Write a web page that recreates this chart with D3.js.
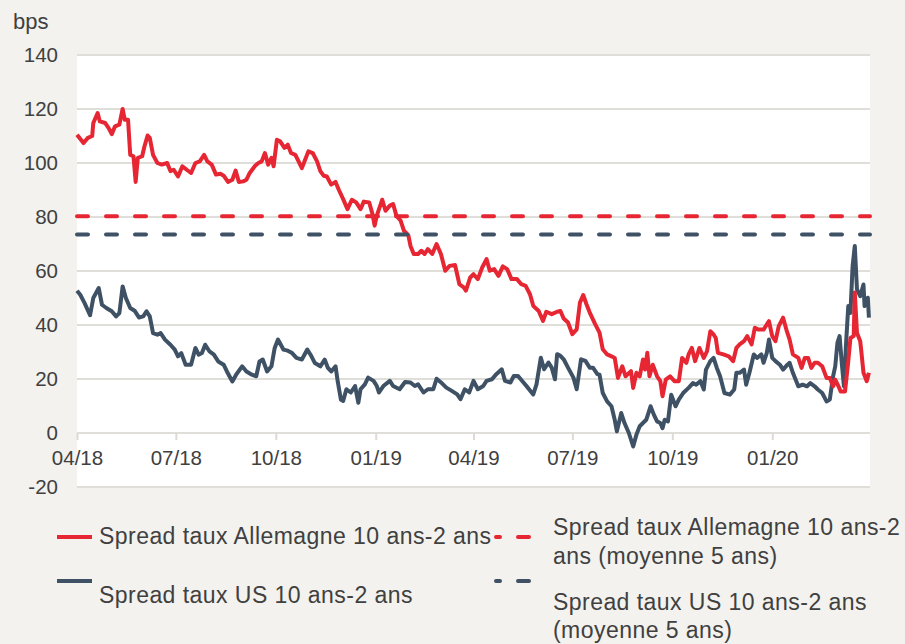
<!DOCTYPE html>
<html lang="fr">

<head>
    <meta charset="UTF-8">
    <title>Spread taux 10 ans-2 ans</title>
    <script src="https://d3js.org/d3.v7.min.js"></script>
    <style>
        body {
            margin: 0;
            background: #f3f2ee;
        }

        #chart text {
            font-family: "Liberation Sans", Arial, sans-serif;
            fill: #404040;
        }
    </style>
</head>

<body>

    <div id="chart"></div>

    <script>
        // Spread taux Allemagne 10 ans-2 ans (bps)
        var deDates = [
            "2018-04-01", "2018-04-07", "2018-04-11", "2018-04-15", "2018-04-16", "2018-04-20", "2018-04-22", "2018-04-27", "2018-04-30",
            "2018-05-03", "2018-05-06", "2018-05-10", "2018-05-13", "2018-05-15", "2018-05-18", "2018-05-20", "2018-05-23", "2018-05-25", "2018-05-27", "2018-05-31",
            "2018-06-02", "2018-06-05", "2018-06-07", "2018-06-10", "2018-06-14", "2018-06-18", "2018-06-23", "2018-06-26", "2018-06-29",
            "2018-07-03", "2018-07-07", "2018-07-11", "2018-07-15", "2018-07-19", "2018-07-23", "2018-07-27", "2018-07-30",
            "2018-08-03", "2018-08-07", "2018-08-11", "2018-08-14", "2018-08-18", "2018-08-22", "2018-08-25", "2018-08-28",
            "2018-09-01", "2018-09-04", "2018-09-07", "2018-09-12", "2018-09-15", "2018-09-18", "2018-09-21", "2018-09-24", "2018-09-27", "2018-09-29",
            "2018-10-02", "2018-10-05", "2018-10-09", "2018-10-12", "2018-10-15", "2018-10-19", "2018-10-22", "2018-10-25", "2018-10-28", "2018-10-31",
            "2018-11-04", "2018-11-08", "2018-11-11", "2018-11-14", "2018-11-17", "2018-11-21", "2018-11-25", "2018-11-28",
            "2018-12-02", "2018-12-06", "2018-12-10", "2018-12-14", "2018-12-18", "2018-12-21", "2018-12-26", "2018-12-29", "2018-12-31",
            "2019-01-02", "2019-01-07", "2019-01-10", "2019-01-14", "2019-01-17", "2019-01-20", "2019-01-24", "2019-01-27", "2019-01-31",
            "2019-02-02", "2019-02-05", "2019-02-09", "2019-02-12", "2019-02-15", "2019-02-18", "2019-02-22", "2019-02-26",
            "2019-03-02", "2019-03-06", "2019-03-10", "2019-03-15", "2019-03-19", "2019-03-23", "2019-03-25", "2019-03-29",
            "2019-04-01", "2019-04-05", "2019-04-09", "2019-04-13", "2019-04-16", "2019-04-20", "2019-04-24", "2019-04-28",
            "2019-05-02", "2019-05-06", "2019-05-11", "2019-05-15", "2019-05-19", "2019-05-23", "2019-05-26", "2019-05-31",
            "2019-06-04", "2019-06-07", "2019-06-12", "2019-06-17", "2019-06-20", "2019-06-23", "2019-06-27",
            "2019-07-01", "2019-07-05", "2019-07-08", "2019-07-11", "2019-07-14", "2019-07-17", "2019-07-22", "2019-07-26", "2019-07-29",
            "2019-08-02", "2019-08-06", "2019-08-09", "2019-08-12", "2019-08-16", "2019-08-19", "2019-08-24", "2019-08-26", "2019-08-29",
            "2019-09-01", "2019-09-04", "2019-09-06", "2019-09-08", "2019-09-10", "2019-09-13", "2019-09-17", "2019-09-20", "2019-09-22", "2019-09-25", "2019-09-29",
            "2019-10-03", "2019-10-07", "2019-10-10", "2019-10-14", "2019-10-16", "2019-10-19", "2019-10-22", "2019-10-26", "2019-10-30",
            "2019-11-02", "2019-11-05", "2019-11-08", "2019-11-10", "2019-11-12", "2019-11-17", "2019-11-22", "2019-11-26", "2019-11-29",
            "2019-12-02", "2019-12-06", "2019-12-09", "2019-12-13", "2019-12-16", "2019-12-19", "2019-12-24", "2019-12-27", "2019-12-29",
            "2020-01-01", "2020-01-04", "2020-01-07", "2020-01-11", "2020-01-14", "2020-01-17", "2020-01-20", "2020-01-25", "2020-01-28", "2020-01-31",
            "2020-02-03", "2020-02-06", "2020-02-09", "2020-02-12", "2020-02-16", "2020-02-20", "2020-02-23", "2020-02-26", "2020-02-28",
            "2020-03-02", "2020-03-04", "2020-03-08", "2020-03-11", "2020-03-13", "2020-03-16", "2020-03-17", "2020-03-19", "2020-03-22", "2020-03-23", "2020-03-25", "2020-03-28", "2020-03-30"
        ];
        var deValues = [
            110.5, 107.4, 109.3, 110, 114.8, 118.5, 115.4, 114.8, 113,
            110.7, 113.6, 114.2, 120, 116, 116, 103, 102.5, 93, 101.9, 102.5,
            106, 110.2, 109.3, 103, 100, 99.4, 100, 97, 97.5,
            95, 98.8, 97.5, 96.3, 100, 100.6, 103, 100.6,
            99.4, 95.7, 96, 95.3, 93, 93.8, 97.2, 93,
            93.2, 93.8, 96.3, 99, 100, 100.6, 103.7, 99.4, 101.9, 98.8,
            108.6, 108, 105.6, 106.8, 103.7, 103, 100.6, 98.1, 101.2, 104.3,
            103.7, 100.6, 97, 95.3, 95, 92, 93, 90.1,
            86.6, 82.9, 86.4, 85.4, 82.9, 85.7, 85.4, 81.1, 76.8,
            80.5, 86.4, 82.3, 84.2, 84.8, 80.5, 78.6, 74.9, 73.3,
            69.3, 66.3, 66.3, 67.5, 66.3, 68.1, 66.3, 70,
            66.3, 60.1, 61.9, 62.2, 55.1, 53.9, 52.7, 57.6,
            58.8, 57, 61.3, 64.4, 60.1, 60.7, 58.2, 61.7,
            60.7, 57, 57, 55.1, 54.5, 51.4, 47.1, 45.2,
            41.5, 44.9, 44, 44.9, 45.2, 42.4, 40.9,
            36.6, 38.4, 48.3, 51.1, 47.7, 44.6, 40.3, 37.2, 31,
            29.1, 28.4, 27.8, 20.4, 24.7, 21, 22.9, 16.7, 22.3,
            21, 27.2, 23.5, 29.7, 21, 25.3, 21, 19.2, 13.6, 19.8, 21,
            19.2, 19.2, 27.8, 26, 29.1, 31.5, 26.6, 31.5, 27.8,
            30.3, 37.7, 36.5, 35.2, 29.7, 29.1, 28.4, 26.6, 31.5,
            32.8, 34, 35.9, 32.8, 39, 38.3, 38.3, 40.2, 41.4,
            35.9, 34, 39.6, 42.7, 38.3, 34.6, 29.1, 27.8, 24.1, 27.8,
            27.8, 24.1, 26, 26, 24.7, 20.4, 20.4, 17.3, 19.8,
            17.3, 15.4, 15.4, 26.6, 35.2, 35.9, 52, 37.1, 34, 30.3, 22.3, 19.2, 22.3
        ];

        // Spread taux US 10 ans-2 ans (bps)
        var usDates = [
            "2018-04-01", "2018-04-04", "2018-04-08", "2018-04-13", "2018-04-16", "2018-04-21", "2018-04-24", "2018-04-28",
            "2018-05-03", "2018-05-07", "2018-05-10", "2018-05-13", "2018-05-16", "2018-05-20", "2018-05-24", "2018-05-28",
            "2018-06-01", "2018-06-04", "2018-06-07", "2018-06-10", "2018-06-14", "2018-06-17", "2018-06-21", "2018-06-26", "2018-06-30",
            "2018-07-03", "2018-07-06", "2018-07-10", "2018-07-15", "2018-07-19", "2018-07-22", "2018-07-25", "2018-07-28",
            "2018-08-01", "2018-08-05", "2018-08-09", "2018-08-14", "2018-08-17", "2018-08-22", "2018-08-26", "2018-08-31",
            "2018-09-04", "2018-09-09", "2018-09-13", "2018-09-16", "2018-09-19", "2018-09-23", "2018-09-27", "2018-09-30",
            "2018-10-03", "2018-10-08", "2018-10-12", "2018-10-16", "2018-10-20", "2018-10-25", "2018-10-30",
            "2018-11-02", "2018-11-06", "2018-11-11", "2018-11-15", "2018-11-18", "2018-11-21", "2018-11-25", "2018-11-27", "2018-11-30",
            "2018-12-02", "2018-12-05", "2018-12-09", "2018-12-13", "2018-12-16", "2018-12-18", "2018-12-22", "2018-12-25", "2018-12-30",
            "2019-01-02", "2019-01-04", "2019-01-08", "2019-01-14", "2019-01-17", "2019-01-23", "2019-01-28",
            "2019-02-02", "2019-02-06", "2019-02-09", "2019-02-14", "2019-02-18", "2019-02-23", "2019-02-26",
            "2019-03-03", "2019-03-07", "2019-03-12", "2019-03-17", "2019-03-20", "2019-03-24", "2019-03-28",
            "2019-04-01", "2019-04-05", "2019-04-10", "2019-04-13", "2019-04-18", "2019-04-22", "2019-04-27", "2019-04-30",
            "2019-05-05", "2019-05-08", "2019-05-12", "2019-05-17", "2019-05-21", "2019-05-26", "2019-05-29",
            "2019-06-02", "2019-06-05", "2019-06-09", "2019-06-12", "2019-06-15", "2019-06-17", "2019-06-20", "2019-06-23", "2019-06-27",
            "2019-07-02", "2019-07-05", "2019-07-09", "2019-07-13", "2019-07-17", "2019-07-20", "2019-07-24", "2019-07-26", "2019-07-29",
            "2019-08-02", "2019-08-06", "2019-08-09", "2019-08-11", "2019-08-15", "2019-08-18", "2019-08-22", "2019-08-26", "2019-08-29",
            "2019-09-01", "2019-09-04", "2019-09-07", "2019-09-11", "2019-09-14", "2019-09-17", "2019-09-20", "2019-09-22", "2019-09-24", "2019-09-27", "2019-09-30",
            "2019-10-04", "2019-10-07", "2019-10-11", "2019-10-16", "2019-10-20", "2019-10-23", "2019-10-27", "2019-10-30",
            "2019-11-01", "2019-11-05", "2019-11-08", "2019-11-11", "2019-11-14", "2019-11-18", "2019-11-23", "2019-11-27", "2019-11-29",
            "2019-12-02", "2019-12-06", "2019-12-08", "2019-12-11", "2019-12-15", "2019-12-18", "2019-12-22", "2019-12-24", "2019-12-27", "2019-12-29",
            "2020-01-01", "2020-01-04", "2020-01-08", "2020-01-11", "2020-01-15", "2020-01-17", "2020-01-20", "2020-01-25", "2020-01-29",
            "2020-02-02", "2020-02-05", "2020-02-09", "2020-02-12", "2020-02-16", "2020-02-20", "2020-02-23", "2020-02-26", "2020-02-28",
            "2020-03-01", "2020-03-03", "2020-03-05", "2020-03-07", "2020-03-09", "2020-03-11", "2020-03-13", "2020-03-15", "2020-03-17", "2020-03-19", "2020-03-22", "2020-03-25", "2020-03-26", "2020-03-29", "2020-03-30"
        ];
        var usValues = [
            52.7, 51.2, 48.1, 43.6, 50, 53.7, 47.5, 46.3,
            45.1, 43.2, 44.4, 54.3, 50, 46.3, 45.3, 42.8,
            43.2, 45.1, 43.2, 37, 36.4, 37, 34.6, 32.7, 30.9,
            28.4, 29.6, 25.3, 25.3, 31.5, 29, 29.6, 32.7,
            30.2, 29, 26.5, 25.3, 22.8, 19.1, 21.9, 24.7,
            22.8, 21.6, 21, 26.5, 27.2, 22.8, 24.7, 31.5,
            34.6, 30.9, 30.5, 29.6, 27.8, 27.2, 30.9,
            29, 25.9, 24.7, 27.2, 24.1, 22.8, 24.7, 19.1, 12.3,
            11.9, 16.2, 15, 17.4, 11.2, 16.2, 18, 20.5, 19.3,
            17.4, 15, 17.4, 19.3, 17.4, 16.2, 18.9,
            18.7, 17.4, 18, 15, 16.2, 16.2, 20.1,
            18.4, 16.8, 15.6, 14.3, 12.5, 16.2, 15,
            19.3, 16.2, 17.4, 19.3, 19.9, 21.8, 23.6, 19.3,
            18.7, 21.1, 21.1, 18.7, 16.8, 14.3, 18,
            27.9, 23.6, 26.1, 24.2, 19.9, 29.2, 28.6, 27.3, 24.2,
            20.5, 16.2, 27.3, 26.7, 24.2, 24.2, 21.8, 21.6, 14.8,
            11.7, 9.9, 4.9, 0.6, 7.4, 3.7, 0, -5, -0.6,
            2.5, 3.7, 4.9, 9.9, 6.8, 4.3, 3.7, 1.8, 4.9, 4.3, 14.2,
            9.9, 12.4, 14.8, 16.7, 18.5, 17.9, 19.2, 16.1,
            23.5, 26.6, 27.8, 24.1, 21, 14.8, 14.2, 16.1, 22.3,
            22.3, 23.5, 17.9, 22.3, 29.1, 27.8, 29.1, 26, 29.7, 34.6,
            27.8, 26.6, 25.3, 23.5, 25.3, 26, 22.3, 17.3, 17.9,
            17.3, 18.5, 17.3, 16.1, 14.8, 11.7, 12.4, 21, 24.7,
            33.4, 35.9, 26, 17.3, 33.4, 47, 44.5, 61.9, 69.3, 53.2, 50.7, 55, 47, 50.1, 42.7
        ];

        // moyennes 5 ans
        var deAverage = 80.3;
        var usAverage = 73.5;

        var yTicks = [-20, 0, 20, 40, 60, 80, 100, 120, 140];
        var xTickDates = ["2018-04-01", "2018-07-01", "2018-10-01", "2019-01-01", "2019-04-01", "2019-07-01", "2019-10-01", "2020-01-01"];
        var dateRange = ["2018-04-01", "2020-03-31"];

        var legendLabels = [
            "Spread taux Allemagne 10 ans-2 ans",
            "Spread taux US 10 ans-2 ans",
            ["Spread taux Allemagne 10 ans-2", "ans (moyenne 5 ans)"],
            ["Spread taux US 10 ans-2 ans", "(moyenne 5 ans)"]
        ];

        var red = "#e62632";
        var navy = "#3e5165";

        var width = 905;
        var height = 644;
        var margin = { top: 55, right: 35, bottom: 156, left: 77 };

        var parse = d3.timeParse("%Y-%m-%d");

        var svg = d3.select("#chart")
            .append("svg")
            .attr("width", width)
            .attr("height", height);

        var x = d3.scaleTime()
            .domain(dateRange.map(parse))
            .range([margin.left, width - margin.right]);

        var y = d3.scaleLinear()
            .domain([-20, 140])
            .range([height - margin.bottom - 1, margin.top]);

        // plot background
        svg.append("rect")
            .attr("x", margin.left)
            .attr("y", y(140))
            .attr("width", width - margin.right - margin.left)
            .attr("height", y(-20) - y(140) + 1)
            .attr("fill", "#ffffff");

        // gridlines
        svg.selectAll(".grid")
            .data(yTicks)
            .enter().append("line")
            .attr("class", "grid")
            .attr("x1", margin.left)
            .attr("x2", width - margin.right)
            .attr("y1", function (d) { return y(d); })
            .attr("y2", function (d) { return y(d); })
            .attr("stroke", "#e0ded9")
            .attr("stroke-width", 2);

        // y axis labels (plain hyphen for negatives, as in the source)
        var yAxis = svg.append("g")
            .attr("transform", "translate(" + margin.left + ",0)")
            .call(d3.axisLeft(y)
                .tickValues(yTicks)
                .tickFormat(function (d) { return String(d); })
                .tickSize(0)
                .tickPadding(19));
        yAxis.select(".domain").remove();
        yAxis.selectAll("text").style("font-size", "20.5px");

        // x axis on the zero line
        var xAxis = svg.append("g")
            .attr("transform", "translate(0," + y(0) + ")")
            .call(d3.axisBottom(x)
                .tickValues(xTickDates.map(parse))
                .tickFormat(d3.timeFormat("%m/%y"))
                .tickSize(7)
                .tickPadding(10));
        xAxis.select(".domain").remove();
        xAxis.selectAll("line").attr("stroke", "#dcdad5").attr("stroke-width", 2);
        xAxis.selectAll("text").style("font-size", "20.5px");

        svg.append("text")
            .attr("x", 13)
            .attr("y", 29)
            .style("font-size", "22px")
            .text("bps");

        var line = d3.line()
            .x(function (d) { return x(d.date); })
            .y(function (d) { return y(d.value); });

        var usData = usDates.map(function (d, i) { return { date: parse(d), value: usValues[i] }; });
        var deData = deDates.map(function (d, i) { return { date: parse(d), value: deValues[i] }; });

        svg.append("path")
            .datum(usData)
            .attr("d", line)
            .attr("fill", "none")
            .attr("stroke", navy)
            .attr("stroke-width", 4)
            .attr("stroke-linejoin", "round");

        svg.append("path")
            .datum(deData)
            .attr("d", line)
            .attr("fill", "none")
            .attr("stroke", red)
            .attr("stroke-width", 4)
            .attr("stroke-linejoin", "round");

        // 5 year averages
        svg.selectAll(".avg")
            .data([{ v: deAverage, c: red }, { v: usAverage, c: navy }])
            .enter().append("line")
            .attr("class", "avg")
            .attr("x1", margin.left)
            .attr("x2", width - margin.right)
            .attr("y1", function (d) { return y(d.v); })
            .attr("y2", function (d) { return y(d.v); })
            .attr("stroke", function (d) { return d.c; })
            .attr("stroke-width", 4)
            .attr("stroke-linecap", "round")
            .attr("stroke-dasharray", "11,18");

        // legend
        var legend = svg.append("g")
            .style("font-size", "23px")
            .style("letter-spacing", "0.45px");

        legend.append("line").attr("x1", 57).attr("x2", 92).attr("y1", 537).attr("y2", 537)
            .attr("stroke", red).attr("stroke-width", 4);
        legend.append("text").attr("x", 99).attr("y", 544).text(legendLabels[0]);

        legend.append("line").attr("x1", 57).attr("x2", 92).attr("y1", 581).attr("y2", 581)
            .attr("stroke", navy).attr("stroke-width", 4);
        legend.append("text").attr("x", 99).attr("y", 603).text(legendLabels[1]);

        legend.append("line").attr("x1", 496).attr("x2", 530).attr("y1", 537).attr("y2", 537)
            .attr("stroke", red).attr("stroke-width", 4).attr("stroke-linecap", "round")
            .attr("stroke-dasharray", "4,18,11,100");
        legend.append("text").attr("x", 553).attr("y", 535)
            .selectAll("tspan").data(legendLabels[2]).enter().append("tspan")
            .attr("x", 553).attr("dy", function (d, i) { return i ? 29 : 0; })
            .text(function (d) { return d; });

        legend.append("line").attr("x1", 496).attr("x2", 530).attr("y1", 581).attr("y2", 581)
            .attr("stroke", navy).attr("stroke-width", 4).attr("stroke-linecap", "round")
            .attr("stroke-dasharray", "4,18,11,100");
        legend.append("text").attr("x", 553).attr("y", 610)
            .selectAll("tspan").data(legendLabels[3]).enter().append("tspan")
            .attr("x", 553).attr("dy", function (d, i) { return i ? 28 : 0; })
            .text(function (d) { return d; });

    </script>

</body>

</html>
